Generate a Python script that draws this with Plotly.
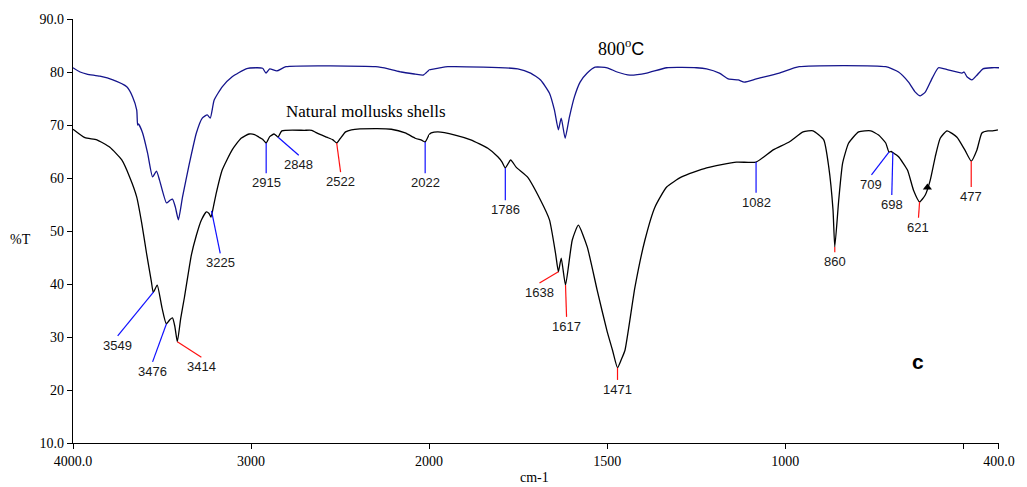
import plotly.graph_objects as go

# ---------------- data ----------------
BREAK = 2000  # the wavenumber axis changes scale at 2000 cm-1

shell_wn = [4000, 3933, 3866, 3793, 3726, 3682, 3642, 3614, 3587, 3560, 3549, 3527, 3500,
            3476, 3455, 3441, 3428, 3414, 3395, 3374, 3335, 3307, 3280, 3251, 3236, 3225,
            3210, 3195, 3162, 3106, 3056, 3011, 2980, 2955, 2935, 2915, 2895, 2871, 2858,
            2848, 2827, 2700, 2659, 2631, 2575, 2540, 2519, 2500, 2469, 2436, 2300, 2212,
            2134, 2078, 2040, 2022, 2000, 1994, 1975, 1927, 1883, 1835, 1807, 1795, 1786,
            1771, 1755, 1724, 1687, 1662, 1645, 1637, 1629, 1617, 1598, 1581, 1556, 1528,
            1500, 1485, 1471, 1460, 1450, 1422, 1394, 1366, 1333, 1291, 1221, 1137, 1082,
            1034, 989, 950, 922, 892, 878, 866, 861, 850, 839, 822, 794, 760, 738, 718,
            709, 703, 698, 682, 657, 640, 623, 607, 593, 579, 565, 546, 518, 496, 478,
            462, 448, 431, 420, 403]
shell_T = [69.2, 67.6, 67.2, 65.8, 63.4, 60.2, 56.4, 51.5, 45.8, 40.5, 38.4, 39.8, 35.5,
           32.5, 33.3, 33.6, 32.0, 29.1, 33.5, 37.5, 45.5, 49.2, 52.0, 53.6, 53.3, 52.6,
           54.8, 57.2, 61.5, 65.3, 67.5, 68.3, 68.2, 67.7, 67.3, 66.6, 67.8, 68.3, 68.0,
           67.7, 68.9, 69.0, 69.0, 68.5, 67.7, 67.2, 66.6, 67.4, 68.7, 69.1, 69.3, 69.2,
           68.5, 67.5, 67.1, 66.8, 68.2, 68.5, 68.7, 68.1, 67.2, 65.6, 64.0, 63.0, 61.9,
           63.4, 62.0, 60.2, 55.8, 52.1, 45.8, 42.3, 44.9, 39.8, 48.3, 51.1, 47.0, 38.8,
           31.0, 27.5, 24.2, 25.8, 27.5, 39.4, 48.3, 54.5, 58.3, 60.2, 61.9, 63.0, 63.0,
           65.3, 66.8, 68.7, 68.9, 67.2, 62.1, 54.0, 47.0, 55.8, 62.8, 66.6, 68.7, 68.9,
           68.1, 66.6, 64.9, 65.0, 64.8, 64.0, 61.5, 57.7, 55.5, 56.8, 59.6, 64.0, 67.5,
           68.9, 67.7, 65.3, 63.2, 65.3, 68.5, 68.9, 68.9, 69.1]

c800_wn = [4000, 3960, 3922, 3849, 3776, 3698, 3665, 3642, 3637, 3632, 3609, 3581, 3553,
           3531, 3514, 3475, 3455, 3441, 3425, 3408, 3385, 3346, 3307, 3274, 3246, 3229,
           3207, 3162, 3106, 3028, 2972, 2935, 2916, 2895, 2855, 2804, 2300, 2229, 2156,
           2078, 2034, 2006, 2000, 1947, 1751, 1715, 1687, 1662, 1648, 1637, 1629, 1618,
           1606, 1592, 1576, 1556, 1534, 1500, 1472, 1436, 1389, 1333, 1249, 1221, 1185,
           1160, 1132, 1115, 1081, 1017, 961, 718, 682, 654, 635, 621, 607, 587, 570, 543,
           504, 498, 490, 476, 462, 445, 420, 400]
c800_T = [80.8, 80.0, 79.6, 79.2, 78.5, 77.2, 75.3, 72.8, 70.0, 70.2, 68.5, 64.7, 60.2,
          61.3, 59.6, 55.3, 55.8, 56.0, 54.5, 52.1, 56.4, 62.8, 68.5, 71.3, 71.9, 71.3,
          74.7, 77.2, 79.1, 80.6, 80.8, 80.7, 79.8, 80.6, 80.2, 81.0, 81.0, 80.6, 80.0,
          79.6, 79.4, 80.2, 80.4, 81.0, 80.6, 79.8, 78.5, 76.0, 72.8, 69.1, 71.3, 67.5,
          71.5, 75.3, 78.1, 79.8, 80.9, 80.8, 80.0, 79.4, 79.8, 80.8, 80.8, 80.6, 79.8,
          78.7, 78.5, 78.1, 78.7, 79.8, 81.0, 81.0, 80.0, 78.1, 76.2, 75.5, 76.2, 78.9,
          80.8, 80.4, 79.8, 80.0, 79.1, 78.5, 79.4, 80.6, 80.8, 80.8]

peak_label = ["3549", "3476", "3414", "3225", "2915", "2848", "2522", "2022", "1786",
              "1638", "1617", "1471", "1082", "860", "709", "698", "621", "477"]
peak_wn = [3547, 3475, 3414, 3222, 2915, 2848, 2519, 2022, 1786,
           1637, 1617, 1471, 1082, 861, 709, 698, 623, 478]
peak_T = [38.5, 32.5, 29.1, 53.8, 66.6, 67.7, 66.6, 66.8, 61.9,
          42.3, 39.8, 24.2, 63.0, 47.0, 64.9, 64.8, 55.5, 63.2]
tip_wn = [3749, 3553, 3279, 3173, 2915, 2732, 2497, 2022, 1786,
          1690, 1614, 1471, 1082, 861, 758, 701, 626, 478]
tip_T = [30.2, 25.3, 26.2, 45.8, 60.9, 64.3, 61.1, 60.9, 55.8,
         40.2, 33.8, 21.9, 57.2, 46.0, 60.6, 56.8, 52.5, 58.3]
peak_kind = ["b", "b", "r", "b", "b", "b", "r", "b", "b",
             "r", "r", "r", "b", "r", "b", "b", "r", "r"]

x_ticks_hi = [4000, 3000]
x_text_hi = ["4000.0", "3000"]
x_ticks_lo = [2000, 1500, 1000, 400]
x_text_lo = ["2000", "1500", "1000", "400.0"]
x_minor_lo = [500]
y_ticks = [10, 20, 30, 40, 50, 60, 70, 80, 90]
y_text = ["10.0", "20", "30", "40", "50", "60", "70", "80", "90.0"]

# ---------------- styling ----------------
SERIF = "Liberation Serif, Times New Roman, serif"
SANS = "Liberation Sans, Arial, sans-serif"
BLACK = "#000000"
NAVY = "#14148c"
LEAD = {"b": "#1010ff", "r": "#ff1010"}
SPLIT = 358 / 931.0  # fraction of the plot width used by 4000-2000


def xref_for(w):
    return "x" if w > BREAK else "x2"


def part(wn, t, hi):
    pts = [(w, v) for w, v in zip(wn, t) if (w >= BREAK if hi else w <= BREAK)]
    return [p[0] for p in pts], [p[1] for p in pts]


fig = go.Figure()
for wn, t, col in [(shell_wn, shell_T, BLACK), (c800_wn, c800_T, NAVY)]:
    for hi in (True, False):
        xs, ys = part(wn, t, hi)
        fig.add_trace(go.Scatter(x=xs, y=ys, mode="lines",
                                 xaxis="x" if hi else "x2", yaxis="y",
                                 line=dict(color=col, width=1.3, shape="spline",
                                           smoothing=0.5),
                                 hoverinfo="skip", showlegend=False))

# cursor mark on the spectrum
fig.add_trace(go.Scatter(x=[601], y=[58.2], mode="markers", xaxis="x2", yaxis="y",
                         marker=dict(symbol="triangle-up", size=8, color=BLACK),
                         hoverinfo="skip", showlegend=False))

shapes = []
annotations = []
for lab, pw, pt, tw, tt, k in zip(peak_label, peak_wn, peak_T, tip_wn, tip_T, peak_kind):
    shapes.append(dict(type="line", xref=xref_for(max(pw, tw)), yref="y",
                       x0=pw, y0=pt, x1=tw, y1=tt,
                       line=dict(color=LEAD[k], width=1.2)))
    annotations.append(dict(text=lab, x=tw, y=tt, xref=xref_for(tw), yref="y",
                            xanchor="center", yanchor="top", showarrow=False,
                            font=dict(family=SANS, size=13, color="#1a1a1a")))

annotations += [
    dict(text="Natural mollusks shells", x=2352, y=72.6, xref="x", yref="y",
         showarrow=False, font=dict(family=SERIF, size=17, color=BLACK)),
    dict(text="800<sup>o</sup><span style='font-family:Liberation Sans'>C</span>",
         x=1461, y=84.6, xref="x2", yref="y",
         showarrow=False, font=dict(family=SERIF, size=18, color=BLACK)),
    dict(text="<b>c</b>", x=626, y=25.4, xref="x2", yref="y",
         showarrow=False, font=dict(family=SANS, size=21, color=BLACK)),
    dict(text="cm-1", x=0.498, y=-0.081, xref="paper", yref="paper",
         xanchor="center", yanchor="middle", showarrow=False,
         font=dict(family=SERIF, size=14, color=BLACK)),
    dict(text="%T", x=-0.057, y=0.479, xref="paper", yref="paper",
         xanchor="center", yanchor="middle", showarrow=False,
         font=dict(family=SERIF, size=14, color=BLACK)),
]

axis_common = dict(showline=True, linecolor=BLACK, linewidth=1.2, ticks="outside",
                   ticklen=5, tickcolor=BLACK, showgrid=False, zeroline=False,
                   tickfont=dict(family=SERIF, size=14, color=BLACK), tickmode="array")

fig.update_layout(
    width=1027, height=487,
    margin=dict(l=73, r=23, t=19, b=44),
    paper_bgcolor="white", plot_bgcolor="white",
    xaxis=dict(domain=[0, SPLIT], range=[4000, BREAK], anchor="y",
               tickvals=x_ticks_hi, ticktext=x_text_hi, **axis_common),
    xaxis2=dict(domain=[SPLIT, 1], range=[BREAK, 400], anchor="y",
                tickvals=x_ticks_lo, ticktext=x_text_lo,
                minor=dict(tickmode="array", tickvals=x_minor_lo, ticks="outside",
                           ticklen=5, tickcolor=BLACK, showgrid=False),
                **axis_common),
    yaxis=dict(range=[10, 90], anchor="x", tickvals=y_ticks, ticktext=y_text,
               **axis_common),
    shapes=shapes,
    annotations=annotations,
)

fig.write_html("out.html")
